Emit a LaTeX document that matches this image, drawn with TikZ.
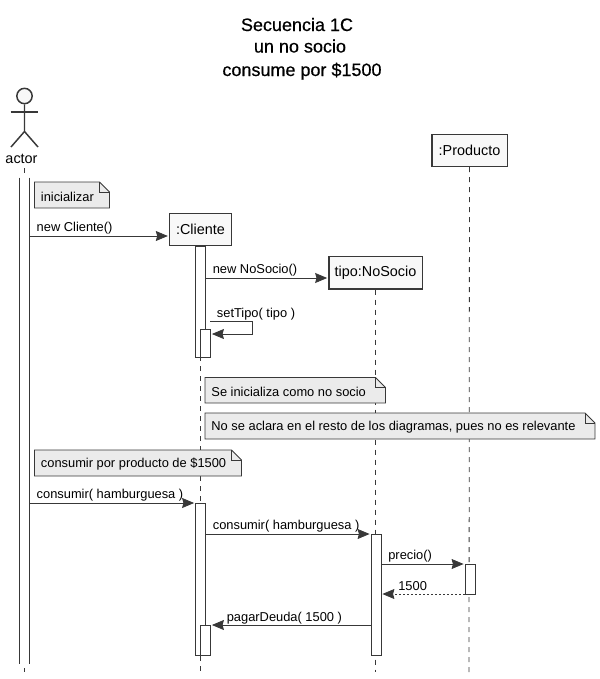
\documentclass[tikz,border=0pt]{standalone}
\usepackage{fontspec}
\setmainfont{Liberation Sans}
\newfontfamily\titlefont[FakeBold=0.5]{Liberation Sans}
\usetikzlibrary{arrows.meta,positioning,calc}
\definecolor{umlLine}{HTML}{383838}
\definecolor{umlHead}{HTML}{F8F8F8}
\definecolor{umlNote}{HTML}{EBEBEB}
\newcommand{\umlnote}[6]{% name, x0, y0, x1, y1, text
  \draw[noteline,fill=umlNote] (#2,#3) -- (#4-10,#3) -- (#4,#3+10) -- (#4,#5) -- (#2,#5) -- cycle;
  \draw[noteline] (#4-10,#3) -- (#4-10,#3+10) -- (#4,#3+10);
  \node[msg,anchor=west] (#1) at (#2+3.5,{(#3+#5)/2+1.5}) {#6};
}
\begin{document}
\begin{tikzpicture}[
  x=0.75pt,y=-0.75pt,
  life/.style={umlLine,semithick,dash pattern=on 3.75pt off 3.75pt},
  head/.style={draw=umlLine,line width=1pt,fill=umlHead,inner sep=0pt,font=\fontsize{10.8}{12}\selectfont},
  actv/.style={draw=umlLine,semithick,fill=white,inner sep=0pt,minimum width=7.5pt},
  noteline/.style={draw=umlLine,semithick},
  msg/.style={inner sep=2pt,text=black,font=\fontsize{9.65}{11}\selectfont},
  ttl/.style={font=\titlefont\fontsize{13.5}{16}\selectfont,inner sep=0pt,anchor=base},
  arr/.style={-{Stealth[length=9pt,width=7.5pt,inset=1pt,umlLine]},umlLine,semithick,shorten >=0.75pt},
  ret/.style={arr,dash pattern=on 1.5pt off 1.5pt}
]
\useasboundingbox (0,0) rectangle (600,679);
% title
\node[ttl] (t1) at (297,31) {Secuencia 1C};
\node[ttl] (t2) at (300,52.5) {un no socio};
\node[ttl] (t3) at (302,76) {consume por \$1500};
% lifelines
\coordinate (actorTop) at (24.5,168);
\coordinate (actorEnd) at (24.5,672);
\coordinate (clienteEnd) at (200.5,672);
\coordinate (socioEnd) at (375.5,672);
\coordinate (prodEnd) at (469,672);
\node[head,minimum width=46.5pt,minimum height=24pt] (cliente) at (200.5,229.5) {:Cliente};
\node[head,minimum width=70pt,minimum height=24.5pt] (socio) at (375.5,272.5) {tipo:NoSocio};
\node[head,minimum width=56.5pt,minimum height=24pt] (prod) at (469.5,150.5) {:Producto};
\draw[life] (actorTop) -- (actorEnd);
\draw[life] (cliente) -- (clienteEnd);
\draw[life] (socio) -- (socioEnd);
\draw[life] (prod) -- (prodEnd);
% actor
\node[circle,draw=umlLine,line width=1.1pt,fill=umlHead,minimum size=11.5pt,inner sep=0pt] (cabeza) at (24.5,96) {};
\coordinate (cadera) at (24.5,131.5);
\draw[umlLine,line width=1.1pt] (cabeza) -- (cadera) -- (11,147);
\draw[umlLine,line width=1.1pt] (cadera) -- (38,147);
\draw[umlLine,line width=1.1pt] (10.5,112) -- (38,112);
\node[font=\fontsize{10.8}{12}\selectfont,inner sep=0pt] (actor) at (21.5,159) {actor};
\node[fill=white,inner sep=0pt,minimum width=7.5pt,minimum height=364.5pt] (barra) at (24.5,421) {};
\draw[umlLine,semithick] (barra.north west) -- (barra.south west);
\draw[umlLine,semithick] (barra.north east) -- (barra.south east);
% activations
\node[actv,minimum height=83.25pt] (a1) at (200.5,301.5) {};
\node[actv,minimum height=21pt] (a2) at (205.5,343) {};
\node[actv,minimum height=114pt] (a3) at (200.5,579) {};
\node[actv,minimum height=22.5pt] (a4) at (205.5,640) {};
\node[actv,minimum height=90.75pt] (a5) at (376,594.5) {};
\node[actv,minimum height=22.5pt] (a6) at (470,579) {};
% notes
\umlnote{n1}{34.5}{182}{109.5}{208}{inicializar}
\umlnote{n2}{205}{377.5}{385.5}{403}{Se inicializa como no socio}
\umlnote{n3}{205}{413}{595}{439}{No se aclara en el resto de los diagramas, pues no es relevante}
\umlnote{n4}{34.5}{450}{241.5}{476}{consumir por producto de \$1500}
% messages
\coordinate (m1) at (barra.east |- 0,236);
\draw[arr] (m1) -- (m1 -| cliente.west);
\node[msg,anchor=south west] at ($(m1)+(4,1)$) {new Cliente()};
\coordinate (m2) at (a1.east |- 0,278);
\draw[arr] (m2) -- (m2 -| socio.west);
\node[msg,anchor=south west] at ($(m2)+(4,1)$) {new NoSocio()};
\coordinate (m3) at (210,321.5);
\coordinate (m3b) at (252.5,334);
\draw[arr] (m3) -| (m3b) -- (a2.east |- m3b);
\node[msg,anchor=south west] at ($(m3)+(4,2)$) {setTipo( tipo )};
\coordinate (m4) at (barra.east |- 0,503);
\draw[arr] (m4) -- (m4 -| a3.west);
\node[msg,anchor=south west] at ($(m4)+(4,1)$) {consumir( hamburguesa )};
\coordinate (m5) at (a3.east |- 0,534);
\draw[arr] (m5) -- (m5 -| a5.west);
\node[msg,anchor=south west] at ($(m5)+(4,1)$) {consumir( hamburguesa )};
\coordinate (m6) at (a5.east |- 0,564);
\draw[arr] (m6) -- (m6 -| a6.west);
\node[msg,anchor=south west] at ($(m6)+(4,1)$) {precio()};
\coordinate (m7) at (a6.west |- 0,594);
\draw[ret] (m7) -- (m7 -| a5.east);
\node[msg,anchor=south west] at ($(m7 -| a5.east)+(14,0)$) {1500};
\coordinate (m8) at (a5.west |- 0,625);
\draw[arr] (m8) -- (m8 -| a4.east);
\node[msg,anchor=south west] at ($(m8 -| a4.east)+(13,2)$) {pagarDeuda( 1500 )};
\end{tikzpicture}
\end{document}
